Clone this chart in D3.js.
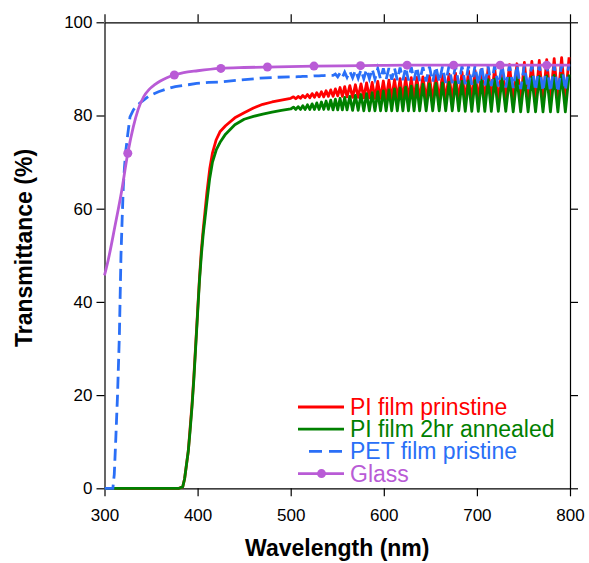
<!DOCTYPE html>
<html>
<head>
<meta charset="utf-8">
<script src="https://cdn.jsdelivr.net/npm/d3@7"></script>
<style>
  body { margin: 0; background: #fff; }
  svg { display: block; font-family: "Liberation Sans", Arial, Helvetica, sans-serif; }
  .axis path, .axis line { stroke: #000; stroke-width: 1.2; }
  .axis text { font-size: 17px; fill: #000; }
</style>
</head>
<body>
<div id="chart"></div>
<script>
// smooth part of the PI films (nm, %)
const piWave = [300, 380, 384, 386, 388, 390, 392, 394, 396, 398, 400, 402, 404, 406, 408, 410, 413, 416, 420, 424, 430, 440, 450, 460, 470, 480, 490, 500];
const piPristine = [0, 0, 0.3, 2, 5, 8, 13, 18, 24, 31, 38, 45, 51, 55.5, 59.5, 63.5, 68.5, 72, 74.8, 76.5, 77.8, 79.5, 80.6, 81.6, 82.4, 82.9, 83.3, 83.7];
const piAnnealed = [0, 0, 0.3, 2, 5, 8, 12.5, 17.5, 23.5, 30.5, 37.5, 44.5, 50, 54.5, 58, 61.5, 66.5, 70, 72.6, 74.2, 76, 78, 79.2, 79.8, 80.3, 80.7, 81.1, 81.4];

// smooth part of the PET film
const petWave = [300, 309, 310.5, 312, 314, 316, 317.7, 319, 320.2, 321.5, 323, 325, 327.4, 331, 335, 340, 348, 358, 367, 376, 390, 399, 412, 424, 445, 467, 485, 500];
const petPristine = [0, 0, 3, 10, 20, 33, 50, 58, 64.7, 69, 72.6, 76, 79.7, 81.2, 82.2, 83, 84.2, 85.1, 85.7, 86.2, 86.6, 86.9, 87.1, 87.2, 87.6, 88, 88.2, 88.3];

// interference fringes, peaks and troughs (nm)
const fringeWave = [
  503, 505.5, 508, 510.5, 513, 515.5, 518, 520.5, 523, 525.5, 528, 530.5, 533, 535.5, 538, 540.5, 543, 545.5, 548, 550.5, 553, 555.5, 558, 560.5,
  563.5, 566.5, 569.5, 572.5, 575.5, 578.5, 581.5, 584.5, 587.5, 590.5, 593.5, 596.5, 599.5, 602.5, 605.5, 608.5, 611.5, 614.5, 617.5, 620.5, 623.5, 626.5, 629.5, 632.5, 635.5, 638.5,
  642, 645.5, 649, 652.5, 656, 659.5, 663, 666.5, 670, 673.5, 677, 680.5, 684, 687.5, 691, 694.5, 698, 701.5, 705, 708.5, 712, 715.5, 719,
  723, 727, 731, 735, 739, 743, 747, 751, 755, 759, 763, 767, 771, 775, 779, 783, 787, 791, 795, 799
];
const piPristineFringe = [
  84.0, 83.6, 84.1, 83.7, 84.3, 83.8, 84.5, 83.8, 84.7, 83.9, 84.9, 84.0, 85.1, 84.0, 85.3, 84.1, 85.5, 84.1, 85.7, 84.2, 86.0, 84.1, 86.2, 84.0,
  86.4, 83.9, 86.6, 83.9, 86.8, 83.8, 87.0, 83.8, 87.1, 83.7, 87.3, 83.7, 87.4, 83.6, 87.6, 83.6, 87.7, 83.6, 87.9, 83.5, 88.0, 83.5, 88.1, 83.5, 88.2, 83.4,
  88.3, 83.4, 88.5, 83.3, 88.6, 83.3, 88.8, 83.2, 88.9, 83.2, 89.1, 83.1, 89.3, 83.1, 89.5, 83.0, 89.7, 83.0, 89.9, 83.0, 90.1, 82.9, 90.3,
  82.9, 90.6, 83.0, 90.9, 83.0, 91.1, 83.1, 91.4, 83.1, 91.6, 83.2, 91.8, 83.2, 92.0, 83.3, 92.2, 83.3, 92.4, 83.4, 92.5
];
const piAnnealedFringe = [
  81.8, 81.3, 81.9, 81.3, 82.1, 81.3, 82.3, 81.3, 82.5, 81.3, 82.7, 81.3, 82.9, 81.3, 83.1, 81.3, 83.3, 81.2, 83.5, 81.2, 83.7, 81.2, 83.9, 81.2,
  84.1, 81.1, 84.3, 81.1, 84.5, 81.0, 84.7, 81.0, 84.9, 81.0, 85.1, 81.0, 85.3, 81.0, 85.5, 81.0, 85.7, 81.0, 85.9, 81.0, 86.1, 81.0, 86.3, 81.0, 86.5, 81.0,
  86.7, 81.0, 86.8, 81.0, 86.9, 81.0, 87.0, 81.0, 87.1, 81.0, 87.2, 81.0, 87.3, 80.9, 87.4, 80.9, 87.5, 80.9, 87.6, 80.9, 87.7, 80.9, 87.8,
  80.9, 87.9, 80.9, 88.0, 80.8, 88.1, 80.8, 88.2, 80.8, 88.3, 80.8, 88.4, 80.8, 88.5, 80.8, 88.6, 80.8, 88.7, 80.8, 88.8
];
const petFringe = [
  88.3, 88.3, 88.35, 88.35, 88.4, 88.4, 88.4, 88.45, 88.45, 88.5, 88.5, 88.5, 88.55, 88.55, 88.6, 88.6, 88.6, 88.6, 88.9, 88.3, 89.1, 88.2, 89.3, 88.2,
  89.5, 88.1, 89.7, 88.0, 89.8, 87.9, 89.9, 87.9, 90.0, 87.8, 90.1, 87.8, 90.1, 87.7, 90.2, 87.7, 90.2, 87.6, 90.3, 87.6, 90.3, 87.5, 90.4, 87.5, 90.4, 87.4,
  90.4, 87.3, 90.5, 87.2, 90.5, 87.1, 90.5, 87.0, 90.6, 86.9, 90.6, 86.8, 90.6, 86.7, 90.6, 86.6, 90.7, 86.5, 90.7, 86.4, 90.7, 86.3, 90.7,
  86.2, 90.8, 86.0, 90.8, 85.9, 90.8, 85.7, 90.8, 85.5, 90.9, 85.3, 90.9, 85.2, 90.9, 85.1, 90.9, 85.0, 91.0, 85.4, 91.0
];

// glass
const glassWave = [300, 304, 311, 318, 325, 331, 336, 342, 348, 354, 360, 367, 375, 385, 400, 424, 450, 475, 525, 575, 625, 675, 725, 775, 800];
const glassT = [45.7, 49, 56, 63.3, 71.9, 77.6, 81.2, 84, 85.6, 86.6, 87.4, 88.1, 88.7, 89.2, 89.6, 90.1, 90.3, 90.4, 90.6, 90.7, 90.8, 90.8, 90.8, 90.8, 90.8];
const glassMarkWave = [325, 375, 425, 475, 525, 575, 625, 675, 725, 775];
const glassMarkT = [71.9, 88.7, 90.1, 90.4, 90.6, 90.7, 90.8, 90.8, 90.8, 90.8];

const xTicks = [300, 400, 500, 600, 700, 800];
const yTicks = [0, 20, 40, 60, 80, 100];

const legendLabels = ["PI film prinstine", "PI film 2hr annealed", "PET film pristine", "Glass"];
const colors = ["#ff0000", "#008000", "#2a6ff7", "#b95bd6"];

const W = 589, H = 563;
const margin = { top: 22.3, left: 104.5, right: 19, bottom: 74.7 };
const width = W - margin.left - margin.right,
  height = H - margin.top - margin.bottom;

const svg = d3.select("#chart").append("svg")
  .attr("width", W)
  .attr("height", H);

const g = svg.append("g")
  .attr("transform", "translate(" + margin.left + "," + margin.top + ")");

const xScale = d3.scaleLinear().domain([300, 800]).range([0, width]);
const yScale = d3.scaleLinear().domain([0, 100]).range([height, 0]);

// axes on all four sides, ticks outward
g.append("g").attr("class", "axis")
  .attr("transform", "translate(0," + height + ")")
  .call(d3.axisBottom(xScale).tickValues(xTicks).tickSize(8).tickSizeOuter(0).tickPadding(13));
g.append("g").attr("class", "axis")
  .call(d3.axisTop(xScale).tickValues(xTicks).tickSize(8).tickSizeOuter(0).tickFormat(""));
g.append("g").attr("class", "axis")
  .call(d3.axisLeft(yScale).tickValues(yTicks).tickSize(8).tickSizeOuter(0).tickPadding(4));
g.append("g").attr("class", "axis")
  .attr("transform", "translate(" + width + ",0)")
  .call(d3.axisRight(yScale).tickValues(yTicks).tickSize(8).tickSizeOuter(0).tickFormat(""));

function zip(ws, ts) {
  return ws.map((w, i) => [w, ts[i]]);
}

const line = d3.line()
  .x(d => xScale(d[0]))
  .y(d => yScale(d[1]));

const smoothLine = d3.line()
  .x(d => xScale(d[0]))
  .y(d => yScale(d[1]))
  .curve(d3.curveMonotoneX);

const redData = zip(piWave, piPristine).concat(zip(fringeWave, piPristineFringe));
const greenData = zip(piWave, piAnnealed).concat(zip(fringeWave, piAnnealedFringe));
const blueData = zip(petWave, petPristine).concat(zip(fringeWave, petFringe));
const glassData = zip(glassWave, glassT);

g.append("path").datum(redData)
  .attr("fill", "none").attr("stroke", colors[0]).attr("stroke-width", 2.8)
  .attr("stroke-linejoin", "round")
  .attr("d", line);

g.append("path").datum(greenData)
  .attr("fill", "none").attr("stroke", colors[1]).attr("stroke-width", 2.8)
  .attr("stroke-linejoin", "round")
  .attr("d", line);

g.append("path").datum(blueData)
  .attr("fill", "none").attr("stroke", colors[2]).attr("stroke-width", 2.8)
  .attr("stroke-dasharray", "12,6")
  .attr("d", line);

g.append("path").datum(glassData)
  .attr("fill", "none").attr("stroke", colors[3]).attr("stroke-width", 2.8)
  .attr("d", smoothLine);

g.append("g").attr("fill", colors[3])
  .selectAll("circle")
  .data(zip(glassMarkWave, glassMarkT))
  .enter().append("circle")
    .attr("cx", d => xScale(d[0]))
    .attr("cy", d => yScale(d[1]))
    .attr("r", 4.5);

// axis titles
svg.append("text")
  .attr("x", margin.left + width / 2)
  .attr("y", 556)
  .attr("text-anchor", "middle")
  .style("font-size", "23px").style("font-weight", "bold")
  .text("Wavelength (nm)");

svg.append("text")
  .attr("transform", "translate(32,248) rotate(-90)")
  .attr("text-anchor", "middle")
  .style("font-size", "23px").style("font-weight", "bold")
  .text("Transmittance (%)");

// legend
const legend = svg.append("g").attr("transform", "translate(298,407)");
legendLabels.forEach((label, i) => {
  const row = legend.append("g").attr("transform", "translate(0," + (i * 22.2) + ")");
  const ln = row.append("line")
    .attr("x1", i === 2 ? 11 : 0).attr("x2", 46)
    .attr("y1", 0).attr("y2", 0)
    .attr("stroke", colors[i]).attr("stroke-width", 2.8);
  if (i === 2) ln.attr("stroke-dasharray", "13,7");
  if (i === 3) {
    row.append("circle").attr("cx", 23.5).attr("cy", 0).attr("r", 4.5).attr("fill", colors[i]);
  }
  row.append("text")
    .attr("x", 52).attr("y", 8)
    .attr("fill", colors[i])
    .style("font-size", "23px")
    .text(label);
});
</script>
</body>
</html>
